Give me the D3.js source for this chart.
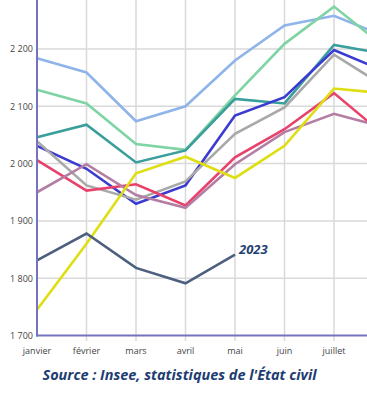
<!DOCTYPE html>
<html><head><meta charset="utf-8">
<script src="https://cdn.jsdelivr.net/npm/d3@7"></script>
<style>
html,body{margin:0;padding:0;background:#fff;}
svg{display:block;}
</style></head>
<body>
<svg id="chart" width="367" height="399"></svg>
<script>
const months = ["janvier","février","mars","avril","mai","juin","juillet","août"];
const yTicks = [1700, 1800, 1900, 2000, 2100, 2200];
const yTickLabels = ["1 700","1 800","1 900","2 000","2 100","2 200"];

const seriesNames = ["s1","s2","s3","s4","s5","s6","s7","s8","2023"];
const seriesColors = ["#8fb4ea","#7fd4a4","#3a9f9c","#3b3bd2","#a9a9a9","#e8426c","#b47ea4","#dede12","#4d5f7f"];
const lightBlue = [2184, 2159, 2074, 2100, 2180, 2241, 2258, 2223];
const lightGreen = [2129, 2105, 2034, 2024, 2119, 2209, 2274, 2205];
const teal = [2046, 2068, 2002, 2023, 2113, 2105, 2207, 2192];
const blue = [2031, 1991, 1930, 1962, 2084, 2116, 2198, 2162];
const gray = [2039, 1962, 1937, 1969, 2052, 2098, 2190, 2136];
const pink = [2006, 1953, 1964, 1927, 2011, 2060, 2123, 2051];
const mauve = [1950, 1999, 1945, 1923, 1999, 2055, 2087, 2064];
const yellow = [1745, 1860, 1983, 2012, 1975, 2031, 2131, 2123];
const y2023 = [1831, 1878, 1818, 1791, 1841];
const seriesValues = [lightBlue, lightGreen, teal, blue, gray, pink, mauve, yellow, y2023];

const sourceText = "Source : Insee, statistiques de l'État civil";
const lastLabel = "2023";

const W = 367;
const svg = d3.select("#chart");
const x = d3.scalePoint().domain(months).range([37, 383.5]);
const y = d3.scaleLinear().domain([1700, 2300]).range([335.5, -8.3]);

// grid
const grid = svg.append("g");
grid.selectAll("line.h").data(yTicks.slice(1).concat([2300])).enter().append("line")
  .attr("x1", 37).attr("x2", W)
  .attr("y1", d => y(d)).attr("y2", d => y(d))
  .attr("stroke", "#d9d9d9").attr("stroke-width", 1.5);
grid.selectAll("line.v").data(months.slice(1)).enter().append("line")
  .attr("x1", d => x(d)).attr("x2", d => x(d))
  .attr("y1", 0).attr("y2", 341)
  .attr("stroke", "#d9d9d9").attr("stroke-width", 1.5);

// y tick labels
svg.append("g").selectAll("text").data(yTicks).enter().append("text")
  .attr("x", 33).attr("y", d => y(d) + 3.3)
  .attr("text-anchor", "end")
  .attr("font-family", "Open Sans, sans-serif").attr("font-size", 9)
  .attr("fill", "#444")
  .text((d, i) => yTickLabels[i]);

// x tick labels (only those inside the visible frame)
svg.append("g").selectAll("text").data(months.filter(m => x(m) + 14 < W)).enter().append("text")
  .attr("x", d => x(d)).attr("y", 354)
  .attr("text-anchor", "middle")
  .attr("font-family", "Open Sans, sans-serif").attr("font-size", 9)
  .attr("fill", "#444")
  .text(d => d);

// lines
const line = d3.line().x((d, i) => x(months[i])).y(d => y(d));
svg.append("g").selectAll("path").data(seriesValues).enter().append("path")
  .attr("d", d => line(d))
  .attr("fill", "none")
  .attr("stroke", (d, i) => seriesColors[i])
  .attr("stroke-width", 2.6)
  .attr("stroke-linejoin", "miter");

// axes
svg.append("line").attr("x1", 37).attr("x2", 37).attr("y1", 0).attr("y2", 336.5)
  .attr("stroke", "#7573bf").attr("stroke-width", 2);
svg.append("line").attr("x1", 36).attr("x2", W).attr("y1", 335.5).attr("y2", 335.5)
  .attr("stroke", "#7573bf").attr("stroke-width", 2);

// 2023 label
svg.append("text")
  .attr("x", x(months[y2023.length - 1]) + 4).attr("y", 254)
  .attr("font-family", "Open Sans, sans-serif").attr("font-size", 13)
  .attr("font-weight", "bold").attr("font-style", "italic")
  .attr("fill", "#1d3f73")
  .text(lastLabel);

// source
svg.append("text")
  .attr("x", 42.5).attr("y", 380)
  .attr("font-family", "Open Sans, sans-serif").attr("font-size", 15)
  .attr("font-weight", "bold").attr("font-style", "italic")
  .attr("fill", "#1e3c72")
  .attr("textLength", 274).attr("lengthAdjust", "spacingAndGlyphs")
  .text(sourceText);
</script>
</body></html>
